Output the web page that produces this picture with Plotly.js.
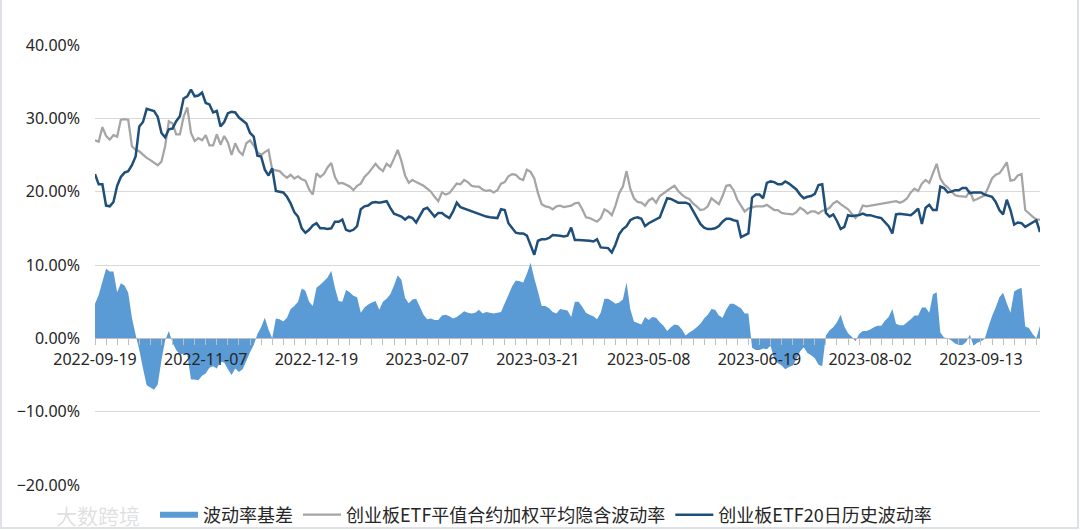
<!DOCTYPE html>
<html>
<head>
<meta charset="utf-8">
<script src="https://cdn.plot.ly/plotly-3.0.1.min.js"></script>
<style>html,body{margin:0;padding:0;background:#fff;}#chart{width:1080px;height:530px;}</style>
</head>
<body>
<div id="chart"></div>
<script>
const dates = [
"2022-09-19","2022-09-20","2022-09-21","2022-09-22","2022-09-23","2022-09-26","2022-09-27","2022-09-28","2022-09-29","2022-09-30",
"2022-10-10","2022-10-11","2022-10-12","2022-10-13","2022-10-14","2022-10-17","2022-10-18","2022-10-19","2022-10-20","2022-10-21",
"2022-10-24","2022-10-25","2022-10-26","2022-10-27","2022-10-28","2022-10-31","2022-11-01","2022-11-02","2022-11-03","2022-11-04",
"2022-11-07","2022-11-08","2022-11-09","2022-11-10","2022-11-11","2022-11-14","2022-11-15","2022-11-16","2022-11-17","2022-11-18",
"2022-11-21","2022-11-22","2022-11-23","2022-11-24","2022-11-25","2022-11-28","2022-11-29","2022-11-30","2022-12-01","2022-12-02",
"2022-12-05","2022-12-06","2022-12-07","2022-12-08","2022-12-09","2022-12-12","2022-12-13","2022-12-14","2022-12-15","2022-12-16",
"2022-12-19","2022-12-20","2022-12-21","2022-12-22","2022-12-23","2022-12-26","2022-12-27","2022-12-28","2022-12-29","2022-12-30",
"2023-01-03","2023-01-04","2023-01-05","2023-01-06","2023-01-09","2023-01-10","2023-01-11","2023-01-12","2023-01-13","2023-01-16",
"2023-01-17","2023-01-18","2023-01-19","2023-01-20","2023-01-30","2023-01-31","2023-02-01","2023-02-02","2023-02-03","2023-02-06",
"2023-02-07","2023-02-08","2023-02-09","2023-02-10","2023-02-13","2023-02-14","2023-02-15","2023-02-16","2023-02-17","2023-02-20",
"2023-02-21","2023-02-22","2023-02-23","2023-02-24","2023-02-27","2023-02-28","2023-03-01","2023-03-02","2023-03-03","2023-03-06",
"2023-03-07","2023-03-08","2023-03-09","2023-03-10","2023-03-13","2023-03-14","2023-03-15","2023-03-16","2023-03-17","2023-03-20",
"2023-03-21","2023-03-22","2023-03-23","2023-03-24","2023-03-27","2023-03-28","2023-03-29","2023-03-30","2023-03-31","2023-04-03",
"2023-04-04","2023-04-06","2023-04-07","2023-04-10","2023-04-11","2023-04-12","2023-04-13","2023-04-14","2023-04-17","2023-04-18",
"2023-04-19","2023-04-20","2023-04-21","2023-04-24","2023-04-25","2023-04-26","2023-04-27","2023-04-28","2023-05-04","2023-05-05",
"2023-05-08","2023-05-09","2023-05-10","2023-05-11","2023-05-12","2023-05-15","2023-05-16","2023-05-17","2023-05-18","2023-05-19",
"2023-05-22","2023-05-23","2023-05-24","2023-05-25","2023-05-26","2023-05-29","2023-05-30","2023-05-31","2023-06-01","2023-06-02",
"2023-06-05","2023-06-06","2023-06-07","2023-06-08","2023-06-09","2023-06-12","2023-06-13","2023-06-14","2023-06-15","2023-06-16",
"2023-06-19","2023-06-20","2023-06-21","2023-06-26","2023-06-27","2023-06-28","2023-06-29","2023-06-30","2023-07-03","2023-07-04",
"2023-07-05","2023-07-06","2023-07-07","2023-07-10","2023-07-11","2023-07-12","2023-07-13","2023-07-14","2023-07-17","2023-07-18",
"2023-07-19","2023-07-20","2023-07-21","2023-07-24","2023-07-25","2023-07-26","2023-07-27","2023-07-28","2023-07-31","2023-08-01",
"2023-08-02","2023-08-03","2023-08-04","2023-08-07","2023-08-08","2023-08-09","2023-08-10","2023-08-11","2023-08-14","2023-08-15",
"2023-08-16","2023-08-17","2023-08-18","2023-08-21","2023-08-22","2023-08-23","2023-08-24","2023-08-25","2023-08-28","2023-08-29",
"2023-08-30","2023-08-31","2023-09-01","2023-09-04","2023-09-05","2023-09-06","2023-09-07","2023-09-08","2023-09-11","2023-09-12",
"2023-09-13","2023-09-14","2023-09-15","2023-09-18","2023-09-19","2023-09-20","2023-09-21","2023-09-22","2023-09-25","2023-09-26",
"2023-09-27","2023-09-28","2023-10-09","2023-10-10","2023-10-11","2023-10-12","2023-10-13"
];

// 波动率基差 (%)
const basis = [
4.7,5.9,7.7,9.5,9.1,9.1,6.3,7.5,7.2,6.2,
2.8,0.5,-1.6,-4.1,-6.4,-6.7,-7.0,-6.3,-3.0,-0.3,
1.0,-0.6,-1.6,-2.2,-2.1,-2.2,-5.6,-5.6,-5.7,-5.1,
-4.8,-4.0,-3.8,-4.1,-3.2,-3.3,-4.2,-5.0,-4.1,-4.6,
-4.2,-3.1,-1.9,-0.9,0.6,1.5,2.8,1.2,0.0,2.7,
2.6,2.3,2.8,4.0,4.4,5.0,6.8,6.5,5.0,4.4,
6.9,7.3,7.8,8.3,9.2,6.9,5.1,5.0,6.6,6.3,
5.8,5.6,3.5,4.2,4.6,4.9,5.1,3.9,5.0,5.4,
6.0,7.2,8.6,8.0,5.5,4.8,5.3,5.4,4.3,3.2,
2.6,2.7,2.5,2.5,3.1,3.2,3.0,2.7,2.9,3.3,
3.7,3.5,3.4,3.5,3.9,3.4,3.6,3.5,3.4,3.5,
3.6,4.8,5.9,7.1,7.9,7.8,7.6,8.8,10.3,8.2,
6.4,4.4,4.4,4.1,3.6,3.4,4.0,3.9,3.8,2.9,
5.0,5.0,4.3,3.5,3.2,3.0,2.6,3.5,5.4,5.4,
5.1,4.7,4.9,5.3,7.6,4.0,2.3,2.1,1.9,2.9,
2.5,2.9,2.8,2.2,1.7,1.0,1.5,1.9,1.8,1.2,
0.4,0.8,1.1,1.5,2.0,2.7,3.2,4.0,3.9,3.1,
2.8,3.9,4.7,4.7,4.4,4.1,3.4,3.4,-1.3,-1.6,
-1.6,-1.4,-1.5,-1.0,-2.8,-3.4,-3.7,-4.2,-3.9,-3.7,
-2.9,-1.8,-1.2,-2.0,-2.3,-2.7,-3.6,-3.8,0.4,1.1,
1.5,2.2,3.2,1.6,0.7,0.2,-0.4,0.6,1.0,1.0,
1.2,1.5,1.7,1.7,2.4,2.9,4.0,2.0,1.8,1.8,
2.2,2.6,3.1,3.1,4.2,4.2,3.5,6.0,6.3,0.8,
0.1,0.0,-0.3,-0.7,-0.9,-0.9,-0.5,0.5,-1.0,-0.6,
-0.4,-0.1,1.5,3.0,4.2,5.6,6.2,4.8,3.5,6.4,
6.7,6.9,1.6,1.4,0.6,0.0,1.7
];

// 创业板ETF平值合约加权平均隐含波动率 (%)
const impliedVol = [
27.0,26.8,28.8,27.6,27.1,27.7,27.5,29.8,29.9,29.8,
26.2,25.7,25.5,25.0,24.6,24.3,24.0,23.6,24.1,26.2,
29.6,29.3,27.8,27.8,30.2,31.5,28.0,26.9,27.3,27.0,
27.7,26.3,26.3,27.8,26.4,27.6,26.7,25.0,26.6,25.5,
25.0,26.6,27.0,26.3,25.4,25.0,25.4,25.7,23.0,22.9,
22.8,22.3,21.9,22.3,21.8,22.1,21.7,21.5,20.3,19.6,
22.5,22.0,22.4,23.3,23.9,22.0,21.1,21.2,21.0,20.7,
20.2,20.8,21.1,22.0,22.5,23.2,23.8,23.2,22.8,23.8,
23.4,24.5,25.7,24.2,22.2,21.2,21.6,21.3,21.1,20.8,
20.4,20.0,19.3,18.7,19.9,19.6,19.8,20.4,21.1,21.0,
21.6,21.3,20.8,20.7,20.7,20.3,20.1,20.2,19.9,20.2,
21.1,21.3,22.1,22.4,22.3,21.8,21.6,23.0,22.7,21.8,
19.8,18.3,18.0,17.9,17.6,18.0,18.1,17.9,18.0,18.1,
18.4,18.5,17.6,16.5,16.4,16.2,15.9,16.4,17.6,17.3,
16.8,18.1,19.8,20.7,22.8,20.4,19.1,18.6,18.5,18.1,
18.8,19.1,18.5,19.4,19.8,20.1,20.5,20.8,20.1,19.6,
19.2,19.0,18.4,18.0,17.5,17.6,18.0,19.1,18.7,18.3,
19.4,20.8,20.9,20.2,18.9,18.0,17.3,17.7,17.9,18.0,
18.0,18.0,18.2,17.9,17.5,17.5,17.1,17.0,17.0,16.9,
17.2,17.8,17.5,17.0,17.3,17.3,17.0,17.4,17.5,17.8,
18.4,18.7,18.3,18.0,17.6,17.0,16.4,17.0,18.1,18.0,
18.1,18.2,18.3,18.3,18.5,18.6,18.7,18.7,18.5,18.7,
19.1,19.9,20.4,20.1,21.1,21.6,21.2,22.6,23.8,21.8,
21.0,20.6,20.1,19.5,19.4,19.4,19.3,20.1,18.8,19.0,
19.3,19.5,20.6,21.8,22.3,22.5,23.2,24.0,21.5,21.6,
22.2,22.4,17.5,17.0,16.6,16.2,16.2
];

// 创业板ETF20日历史波动率 (%)
const histVol = [
22.4,21.0,21.0,18.1,18.0,18.6,20.8,22.0,22.6,22.8,
23.6,24.8,28.9,29.5,31.3,31.1,31.0,30.2,28.0,27.4,
28.5,28.6,29.6,30.3,32.7,33.0,33.9,33.0,33.1,33.5,
32.1,31.9,30.8,31.0,28.9,29.5,30.7,30.9,30.8,30.1,
29.7,29.3,28.0,27.5,24.9,24.8,23.0,22.2,23.2,20.1,
20.0,19.9,19.3,18.4,17.2,16.6,15.0,14.4,14.8,15.4,
15.7,15.0,15.0,14.9,15.0,15.9,15.9,16.2,14.8,14.6,
14.8,15.3,17.6,18.0,18.1,18.5,18.6,18.5,18.6,18.7,
17.8,17.0,16.8,16.6,16.2,16.6,16.4,15.8,16.7,17.6,
17.8,17.2,16.6,17.1,17.1,16.7,16.4,17.3,18.5,17.9,
17.7,17.5,17.4,17.1,17.0,16.7,16.6,16.5,16.5,16.4,
17.6,17.5,15.7,15.0,14.4,14.3,14.3,14.0,12.6,11.4,
13.3,13.5,13.5,13.7,14.1,14.1,14.0,13.9,14.0,15.1,
13.4,13.4,13.4,13.4,13.3,13.2,13.5,12.4,12.3,12.3,
11.7,12.8,14.2,14.9,15.3,16.1,16.4,16.5,16.3,15.3,
15.7,16.0,16.2,16.5,17.8,19.1,19.0,18.7,18.5,18.5,
18.5,18.3,17.4,16.5,15.6,15.1,14.9,14.9,15.0,15.3,
15.9,16.3,16.3,16.1,16.0,13.8,14.1,14.3,19.2,19.6,
19.6,19.1,21.2,21.4,21.3,21.0,21.0,21.4,21.1,20.7,
20.3,19.6,19.1,19.3,19.4,19.7,20.9,21.0,17.1,16.6,
16.9,16.0,14.9,15.2,16.8,16.7,16.7,16.8,17.0,16.8,
16.8,16.6,16.5,16.4,15.9,15.3,14.3,16.9,17.0,16.9,
16.9,16.8,17.2,17.7,15.6,17.8,18.2,17.5,17.5,20.7,
20.5,19.9,20.0,20.2,20.2,20.5,20.5,19.8,19.9,19.9,
19.9,19.6,19.4,19.3,18.6,17.5,16.9,18.9,17.5,15.5,
15.8,15.7,15.2,15.5,15.9,16.1,14.5
];

const seriesNames = ["波动率基差", "创业板ETF平值合约加权平均隐含波动率", "创业板ETF20日历史波动率"];

const tickVals = dates.filter((d, i) => i % 3 === 0);
const tickText = dates.map((d, i) => (i % 30 === 0 ? d : "")).filter((d, i) => i % 3 === 0);

const traces = [
  {
    x: dates, y: basis, name: seriesNames[0], type: "scatter", mode: "none",
    fill: "tozeroy", fillcolor: "#5b9bd5"
  },
  {
    x: dates, y: impliedVol, name: seriesNames[1], type: "scatter", mode: "lines",
    line: {color: "#a5a5a5", width: 2.25}
  },
  {
    x: dates, y: histVol, name: seriesNames[2], type: "scatter", mode: "lines",
    line: {color: "#1f4e79", width: 2.5}
  }
];

const PL = 95, PR = 1040, PT = 45, PB = 485;
const pw = PR - PL, ph = PB - PT;

const layout = {
  width: 1080, height: 530,
  margin: {l: PL, r: 1080 - PR, t: PT, b: 530 - PB, pad: 0, autoexpand: false},
  paper_bgcolor: "#ffffff", plot_bgcolor: "#ffffff",
  font: {family: "'Noto Sans', 'Noto Sans CJK SC', sans-serif", size: 16, color: "#262626"},
  showlegend: true,
  xaxis: {
    type: "category", range: [0, dates.length - 1], autorange: false,
    anchor: "free", position: 1 / 3,
    showline: true, linecolor: "#bfbfbf", linewidth: 1,
    ticks: "outside", ticklen: 6, tickwidth: 1, tickcolor: "#bfbfbf",
    tickmode: "array", tickvals: tickVals, ticktext: tickText, tickangle: 0,
    showgrid: false, zeroline: false,
    tickfont: {size: 16, color: "#262626"}
  },
  yaxis: {
    range: [-20, 40], autorange: false, tickmode: "linear", tick0: 0, dtick: 10,
    tickformat: ".2f", ticksuffix: "%",
    showgrid: true, gridcolor: "#d9d9d9", gridwidth: 1,
    zeroline: false, showline: false, ticks: "",
    ticklabelstandoff: 14,
    tickfont: {size: 16, color: "#262626"}
  },
  legend: {
    orientation: "h", x: (546 - PL) / pw, xanchor: "center",
    y: -(515 - PB) / ph, yanchor: "middle",
    font: {family: "'Noto Sans CJK SC', 'Noto Sans', sans-serif", size: 18, color: "#262626"},
    bgcolor: "rgba(0,0,0,0)", itemwidth: 38
  },
  shapes: [
    {type: "rect", xref: "paper", yref: "paper",
     x0: (1 - PL) / pw, x1: (1078 - PL) / pw, y0: -(528 - PB) / ph, y1: (PB + 10) / ph,
     line: {color: "#d3d9df", width: 1.5}, fillcolor: "rgba(0,0,0,0)", layer: "below"}
  ],
  annotations: [
    {xref: "paper", yref: "paper", x: (98 - PL) / pw, y: -(515 - PB) / ph,
     xanchor: "center", yanchor: "middle", showarrow: false,
     text: "大数跨境", font: {family: "'Noto Sans CJK SC'", size: 21, color: "rgba(185,185,185,0.45)"}}
  ]
};

Plotly.newPlot("chart", traces, layout, {displayModeBar: false, staticPlot: true});
</script>
</body>
</html>
